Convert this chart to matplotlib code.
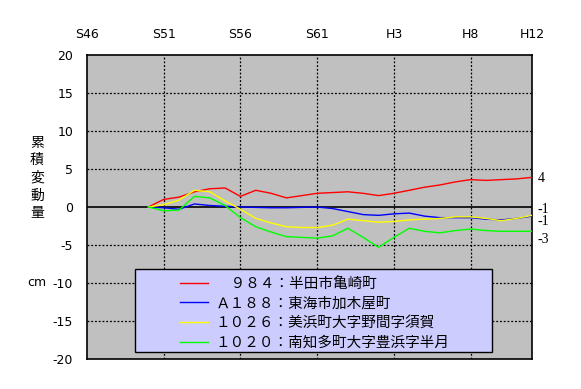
import matplotlib
matplotlib.use('Agg')
import matplotlib.pyplot as plt
from matplotlib.patches import Rectangle

plt.rcParams['font.family'] = ['Noto Sans CJK JP', 'DejaVu Sans']

# 年（S50=1975 〜 H12=2000）
years = list(range(1975, 2001))

# 累積変動量 (cm)
red_984 = [0, 1.0, 1.3, 2.0, 2.4, 2.5, 1.4, 2.2, 1.8, 1.2, 1.5, 1.8, 1.9,
           2.0, 1.8, 1.5, 1.8, 2.2, 2.6, 2.9, 3.3, 3.6, 3.5, 3.6, 3.7, 3.9]
blue_a188 = [0, -0.1, -0.3, 0.4, 0.2, 0.1, 0.0, -0.05, -0.1, -0.1, -0.05, 0.0, -0.2,
             -0.6, -1.0, -1.1, -0.9, -0.8, -1.2, -1.4, -1.4, -1.4, -1.6, -1.7, -1.5, -1.2]
yellow_1026 = [0, 0.3, 0.9, 2.2, 2.0, 0.8, -0.3, -1.5, -2.1, -2.6, -2.7, -2.7, -2.4,
               -1.6, -1.8, -2.0, -1.9, -1.7, -1.6, -1.5, -1.3, -1.3, -1.5, -1.8, -1.5, -1.1]
green_1020 = [0, -0.5, -0.4, 1.4, 1.2, 0.2, -1.4, -2.6, -3.3, -3.9, -4.0, -4.1, -3.8,
              -2.8, -4.0, -5.3, -4.0, -2.8, -3.2, -3.4, -3.1, -2.9, -3.1, -3.2, -3.2, -3.2]

series = [
    (red_984, '#ff0000', '\u3000９８４：半田市亀崎町'),
    (blue_a188, '#0000ff', 'Ａ１８８：東海市加木屋町'),
    (yellow_1026, '#ffff00', '１０２６：美浜町大字野間字須賀'),
    (green_1020, '#00ff00', '１０２０：南知多町大字豊浜字半月'),
]

x_ticks = [1971, 1976, 1981, 1986, 1991, 1996, 2000]
x_labels = ['S46', 'S51', 'S56', 'S61', 'H3', 'H8', 'H12']
y_ticks = list(range(-20, 21, 5))
end_labels = ['4', '-1', '-1', '-3']
end_label_y = [3.7, -0.3, -1.9, -4.3]

fig = plt.figure(figsize=(5.81, 3.89), dpi=100)
ax = fig.add_axes([87 / 581, 1 - 359 / 389, 445 / 581, 304 / 389])
ax.set_facecolor('#c0c0c0')

ax.set_xlim(1971, 2000)
ax.set_ylim(-20, 20)
ax.set_xticks(x_ticks)
ax.set_xticklabels(x_labels, family='DejaVu Sans', fontsize=9)
ax.set_yticks(y_ticks)
ax.set_yticklabels([str(v) for v in y_ticks], family='DejaVu Sans', fontsize=9)
ax.xaxis.tick_top()
ax.tick_params(axis='both', length=0)
ax.tick_params(axis='x', pad=10)
ax.tick_params(axis='y', pad=10)

# 点線グリッド
for v in x_ticks[1:-1]:
    ax.axvline(v, color='black', ls=(0, (1.5, 1.5)), lw=0.9, zorder=1)
for v in y_ticks[1:-1]:
    if v != 0:
        ax.axhline(v, color='black', ls=(0, (1.5, 1.5)), lw=0.9, zorder=1)
ax.axhline(0, color='black', lw=1.2, zorder=2)

for vals, col, lab in series:
    ax.plot(years, vals, color=col, lw=1.0, label=lab, zorder=3)

for s in ax.spines.values():
    s.set_linewidth(1.2)

# 右端の値
for t, yv in zip(end_labels, end_label_y):
    ax.text(2000.35, yv, t, fontsize=10, family='Liberation Serif', va='center', ha='left')

# 縦書きの軸ラベル
fig.text(37 / 581, 1 - 178 / 389, '累\n積\n変\n動\n量', fontsize=10, ha='center',
         va='center', linespacing=1.33)
fig.text(37 / 581, 1 - 283 / 389, 'cm', fontsize=9, ha='center', va='center',
         family='DejaVu Sans')

# 凡例の枠
box = Rectangle((48 / 445, 7 / 304), 357 / 445, 83 / 304, transform=ax.transAxes,
                facecolor='#ccccff', edgecolor='black', lw=1.0, zorder=4)
ax.add_patch(box)

leg = ax.legend(loc='upper left', bbox_to_anchor=(93 / 445, 82 / 304),
                fontsize=10.5, frameon=False, borderpad=0, labelspacing=0.38,
                handlelength=1.9, handletextpad=0.55, borderaxespad=0)
leg.set_zorder(5)

fig.savefig('out.png', dpi=100)
